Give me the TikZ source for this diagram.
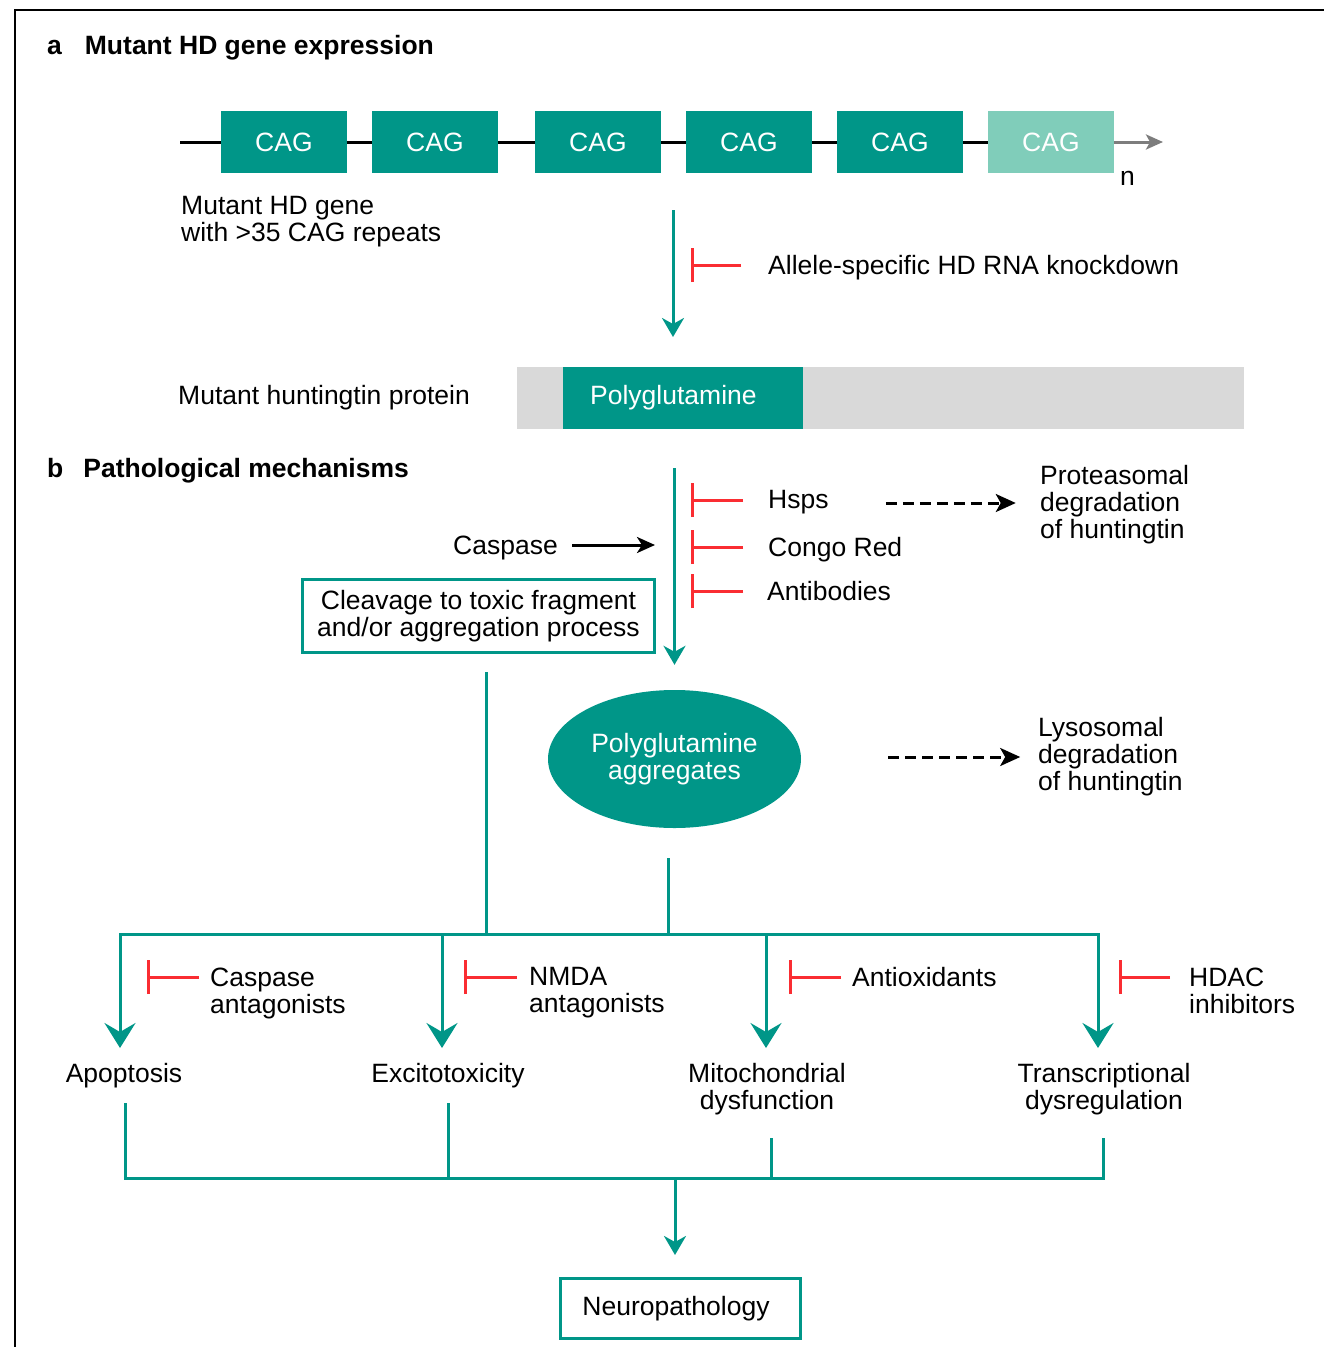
\documentclass[tikz,border=0pt]{standalone}
\usepackage{fontspec}
\setmainfont{Liberation Sans}
\usetikzlibrary{arrows.meta,shapes.geometric}
\definecolor{hdteal}{RGB}{0,150,136}
\definecolor{hdlight}{RGB}{128,205,186}
\definecolor{hdgray}{RGB}{217,217,217}
\definecolor{hdred}{RGB}{250,45,50}
\definecolor{genegray}{RGB}{125,125,125}
\begin{document}
\begin{tikzpicture}[x=1pt,y=-1pt,
  font=\fontsize{26.5pt}{27pt}\selectfont,
  every node/.style={inner sep=0pt},
  lbl/.style={anchor=north west, align=left},
  clbl/.style={anchor=north, align=center},
  boldlbl/.style={lbl, font=\fontsize{26.5pt}{27pt}\selectfont\bfseries},
  cagbox/.style={fill=hdteal, text=white, minimum width=125.5pt, minimum height=62pt, anchor=west},
  tline/.style={draw=hdteal, line width=3pt},
  tarrow/.style={tline, -{Stealth[length=19pt,width=22pt,inset=6pt]}},
  bigarrow/.style={tline, -{Stealth[length=25pt,width=31pt,inset=9pt]}},
  inh/.style={draw=hdred, line width=3pt, -{Bar[width=34pt]}},
  darrow/.style={draw=black, line width=3pt, dash pattern=on 11pt off 6pt, -{Stealth[length=20pt,width=18pt,inset=5pt]}},
  karrow/.style={draw=black, line width=3pt, -{Stealth[length=18pt,width=16pt,inset=5pt]}},
]
\useasboundingbox (0,0) rectangle (1324,1347);

% frame
\coordinate (fbl) at (15,1347);
\coordinate (ftl) at (15,10);
\coordinate (ftr) at (1324,10);
\draw[line width=2.5pt] (fbl) -- (ftl) -- (ftr);

% ---------- panel a: gene expression ----------
\node[boldlbl] (ta) at (47,35.5) {a\hspace{23pt}Mutant HD gene expression};

\coordinate (gs) at (180,142);
\node[cagbox] (c1) at (221,142) {CAG};
\node[cagbox] (c2) at (372,142) {CAG};
\node[cagbox] (c3) at (535,142) {CAG};
\node[cagbox] (c4) at (686,142) {CAG};
\node[cagbox] (c5) at (837,142) {CAG};
\node[cagbox, fill=hdlight] (c6) at (988,142) {CAG};
\draw[line width=3pt] (gs) -- (c1.west) (c1.east) -- (c2.west) (c2.east) -- (c3.west)
  (c3.east) -- (c4.west) (c4.east) -- (c5.west) (c5.east) -- (c6.west);
\coordinate (ge) at (1163,142);
\draw[genegray, line width=3pt, -{Stealth[length=17pt,width=15pt,inset=4pt]}] (c6.east) -- (ge);
\node[lbl] (nn) at (1120,171) {n};

\node[lbl] (glbl) at (181,196.5) {Mutant HD gene\\with >35 CAG repeats};

\coordinate (a1s) at (673,210);
\coordinate (a1e) at (673,337);
\draw[tarrow] (a1s) -- (a1e);
\node[lbl] (kd) at (768,255.5) {Allele-specific HD RNA knockdown};
\draw[inh] ([shift={(-27pt,-9.5pt)}]kd.north west) -- ++(-50,0);

\node[lbl] (mhp) at (178,385.5) {Mutant huntingtin protein};
\node[fill=hdgray, minimum width=727pt, minimum height=62pt, anchor=west] (pbar) at (517,397.5) {};
\node[fill=hdteal, text=white, minimum height=62pt, text width=186pt, inner xsep=27pt,
  align=left, anchor=west] (polyq) at (563,397.5) {Polyglutamine};

% ---------- panel b: pathological mechanisms ----------
\node[boldlbl] (tb) at (47,458.5) {b\hspace{20pt}Pathological mechanisms};

\node[ellipse, fill=hdteal, text=white, minimum width=253pt, minimum height=138pt,
  align=center] (agg) at (674.5,759) {Polyglutamine\\aggregates};
\coordinate (bs) at (674.5,468);
\draw[tarrow] (bs) -- ([yshift=25pt]agg.north);

\node[lbl] (hsps) at (768,490.5) {Hsps};
\node[lbl] (congo) at (768,537.5) {Congo Red};
\node[lbl] (antib) at (767,581.5) {Antibodies};
\draw[inh] ([shift={(-25pt,-9.5pt)}]hsps.north west) -- ++(-52,0);
\draw[inh] ([shift={(-25pt,-9.5pt)}]congo.north west) -- ++(-52,0);
\draw[inh] ([shift={(-24pt,-9.5pt)}]antib.north west) -- ++(-52,0);

\node[lbl] (prot) at (1040,465.5) {Proteasomal\\degradation\\of huntingtin};
\draw[darrow] ([shift={(57pt,-12.5pt)}]hsps.north east) -- ++(130,0);

\node[anchor=north east] (casp) at (558,535.5) {Caspase};
\draw[karrow] ([shift={(14pt,-9.5pt)}]casp.north east) -- ++(83,0);

\node[draw=hdteal, line width=3pt, minimum width=352pt, minimum height=73pt,
  align=center] (cleave) at (478.5,616) {Cleavage to toxic fragment\\and/or aggregation process};

\node[lbl] (lyso) at (1038,717.5) {Lysosomal\\degradation\\of huntingtin};
\draw[darrow] ([shift={(87pt,2pt)}]agg.east) -- ++(132,0);

% branches into the four mechanisms
\coordinate (cb) at (486.5,672);
\coordinate (j1) at (486.5,934);
\coordinate (ab) at (668.5,858);
\coordinate (j2) at (668.5,934);
\draw[tline] (cb) -- (j1);
\draw[tline] (ab) -- (j2);

\coordinate (h1) at (120,934);
\coordinate (h2) at (442,934);
\coordinate (h3) at (766,934);
\coordinate (h4) at (1098,934);
\coordinate (t1) at (120,1048);
\coordinate (t2) at (442,1048);
\coordinate (t3) at (766,1048);
\coordinate (t4) at (1098,1048);
\draw[bigarrow] (h2) -- (h1) -- (t1);
\draw[bigarrow] (h3) -- (h4) -- (t4);
\draw[tline] (h2) -- (h3);
\draw[bigarrow] (h2) -- (t2);
\draw[bigarrow] (h3) -- (t3);

\node[lbl] (casa) at (210,967.5) {Caspase\\antagonists};
\node[lbl] (nmda) at (529,967.5) {NMDA\\antagonists};
\node[lbl] (antiox) at (852,967.5) {Antioxidants};
\node[lbl] (hdac) at (1189,967.5) {HDAC\\inhibitors};
\draw[inh] ([shift={(-11pt,-9.5pt)}]casa.north west) -- ++(-52,0);
\draw[inh] ([shift={(-12pt,-9.5pt)}]nmda.north west) -- ++(-53,0);
\draw[inh] ([shift={(-11pt,-9.5pt)}]antiox.north west) -- ++(-52,0);
\draw[inh] ([shift={(-19pt,-9.5pt)}]hdac.north west) -- ++(-51,0);

\node[clbl] (apo) at (124,1063.5) {Apoptosis};
\node[clbl] (exc) at (448,1063.5) {Excitotoxicity};
\node[clbl] (mito) at (767,1063.5) {Mitochondrial\\dysfunction};
\node[clbl] (trans) at (1104,1063.5) {Transcriptional\\dysregulation};

% convergence on neuropathology
\coordinate (b1) at (125,1103);
\coordinate (b2) at (448,1103);
\coordinate (b3) at (771,1138);
\coordinate (b4) at (1103,1138);
\coordinate (k1) at (125,1178);
\coordinate (k2) at (448,1178);
\coordinate (k3) at (771,1178);
\coordinate (k4) at (1103,1178);
\draw[tline] (b1) -- (k1) -- (k4) -- (b4);
\draw[tline] (b2) -- (k2);
\draw[tline] (b3) -- (k3);

\node[draw=hdteal, line width=3pt, minimum width=240pt, minimum height=60pt] (neuro) at (680.5,1308.5) {\hspace*{-9pt}Neuropathology};
\coordinate (km) at (675,1178);
\coordinate (nt) at (675,1255);
\draw[tarrow] (km) -- (nt);
\end{tikzpicture}
\end{document}
